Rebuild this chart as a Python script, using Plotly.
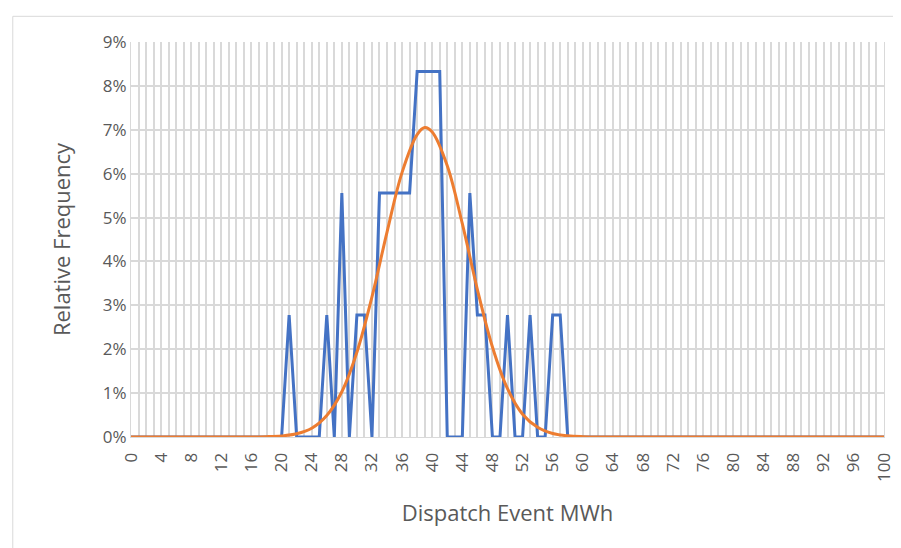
import plotly.graph_objects as go

bins = list(range(0, 101))
nonzero = {21: 2.78, 26: 2.78, 28: 5.56, 30: 2.78, 31: 2.78, 33: 5.56, 34: 5.56, 35: 5.56,
           36: 5.56, 37: 5.56, 38: 8.33, 39: 8.33, 40: 8.33, 41: 8.33, 45: 5.56, 46: 2.78,
           47: 2.78, 50: 2.78, 53: 2.78, 56: 2.78, 57: 2.78}
freq = [nonzero.get(b, 0.0) / 100 for b in bins]

fit_x = [0, 14, 16, 18, 20, 22, 24, 26, 28, 30, 32, 34, 36, 38, 39, 40, 42, 44, 46, 48, 50, 52, 54, 56, 58, 60, 62, 100]
fit_y = [0, 0.000003, 0.00002, 0.00007, 0.00024, 0.00074, 0.0020, 0.0049, 0.0103, 0.0193, 0.0319, 0.0467,
         0.0603, 0.0689, 0.0705, 0.0695, 0.0618, 0.0486, 0.0336, 0.0205, 0.0110, 0.0052, 0.0022, 0.0008,
         0.00026, 0.00007, 0.00001, 0]

fig = go.Figure()
fig.add_trace(go.Scatter(x=bins, y=freq, mode="lines", line=dict(color="#4472C4", width=3)))
fig.add_trace(go.Scatter(x=fit_x, y=fit_y, mode="lines", line=dict(color="#ED7D31", width=3, shape="spline")))

fig.update_layout(
    width=901, height=548, showlegend=False,
    margin=dict(l=123, r=25, t=34, b=119, autoexpand=False),
    paper_bgcolor="white", plot_bgcolor="white",
    font=dict(family="Open Sans, sans-serif", color="#595959", size=18),
    shapes=[dict(type="rect", xref="paper", yref="paper", x0=-0.157, x1=1.015, y0=-0.285, y1=1.065,
                 line=dict(color="#D9D9D9", width=1))],
)
fig.update_xaxes(range=[0, 100], tickmode="array", tickvals=list(range(0, 101, 4)),
                 tickangle=-90, showgrid=True, gridcolor="#D9D9D9", gridwidth=1.5,
                 minor=dict(dtick=1, showgrid=True, gridcolor="#D9D9D9", gridwidth=1.5),
                 zeroline=False, showline=True, linecolor="#D9D9D9", automargin=False,
                 title=dict(text="Dispatch Event MWh", standoff=24), ticks="outside",
                 ticklen=8, tickcolor="white", tickfont=dict(size=17))
fig.update_yaxes(range=[0, 0.09], dtick=0.01, tickformat=".0%", showgrid=True,
                 gridcolor="#D9D9D9", gridwidth=1.5, zeroline=False, ticks="", automargin=False,
                 title=dict(text="Relative Frequency", standoff=26), mirror=True,
                 showline=True, linecolor="#D9D9D9", tickfont=dict(size=17))
fig.write_html("out.html")
